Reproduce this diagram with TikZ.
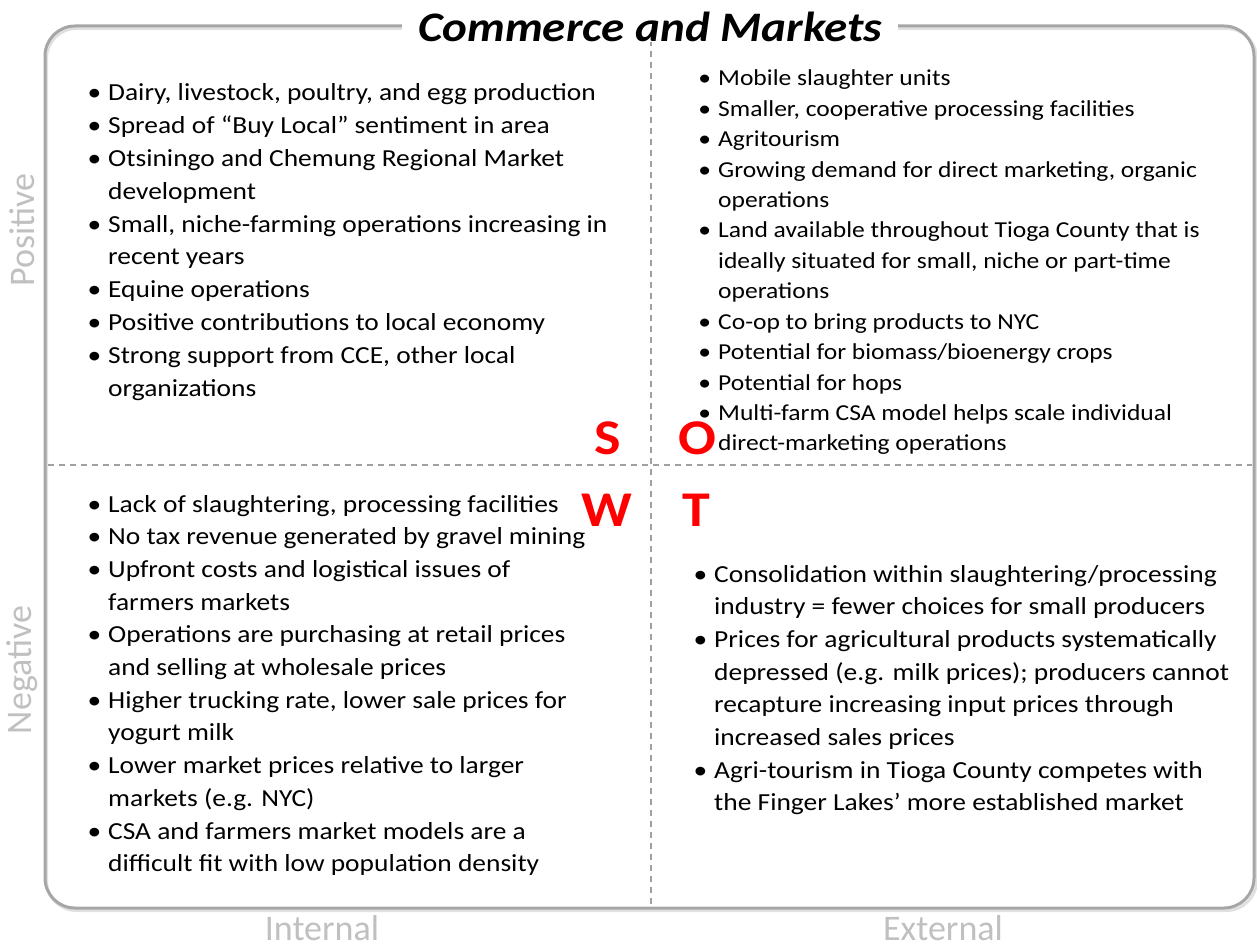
\documentclass[tikz,border=0pt]{standalone}
\usepackage{fontspec}
\setmainfont{Carlito}
\newfontfamily\wide[FakeStretch=1.12]{Carlito}
\definecolor{framegray}{HTML}{A6A6A6}
\definecolor{dashgray}{HTML}{A0A0A0}
\definecolor{axisgray}{HTML}{C0C0C0}
\definecolor{swotred}{HTML}{FF0000}
\newcommand\bul{\llap{\textbullet\hspace{7pt}}}
\begin{document}
\begin{tikzpicture}[x=1pt,y=-1pt,
  frame/.style={line width=3pt,draw=framegray,rounded corners=30pt},
  divider/.style={line width=1.4pt,draw=dashgray,dash pattern=on 6pt off 5pt},
  quadtext/.style={anchor=base west,inner sep=0pt,align=left},
  swot/.style={anchor=base,inner sep=0pt,text=swotred,font=\wide\fontsize{50}{56}\selectfont\bfseries},
  axislabel/.style={inner sep=0pt,text=axisgray,font=\fontsize{36}{42}\selectfont},
  titlebox/.style={anchor=base,fill=white,inner xsep=16pt,inner ysep=0pt,font=\wide\fontsize{42}{50}\selectfont\bfseries\itshape}]
\useasboundingbox (0,0) rectangle (1257,947);
% shadow + frame
\draw[line width=3pt,draw=black,opacity=0.12,rounded corners=30pt] (46.5,28.5) rectangle (1256.5,910.5);
\draw[frame] (45,26) rectangle (1254,908);
% dividers
\coordinate (vtop) at (651,40);
\coordinate (vbot) at (651,905);
\coordinate (hleft) at (48,465);
\coordinate (hright) at (1252,465);
\draw[divider] (vtop) -- (vbot);
\draw[divider] (hleft) -- (hright);
% title
\node[titlebox] (title) at (650,42) {Commerce and Markets};
% quadrants
\node[quadtext] (S) at (108,101) {\wide\fontsize{24.5}{32.8}\selectfont
\begin{tabular}[t]{@{}l@{}}
\bul Dairy, livestock, poultry, and egg production\\
\bul Spread of “Buy Local” sentiment in area\\
\bul Otsiningo and Chemung Regional Market\\
development\\
\bul Small, niche-farming operations increasing in\\
recent years\\
\bul Equine operations\\
\bul Positive contributions to local economy\\
\bul Strong support from CCE, other local\\
organizations
\end{tabular}};
\node[quadtext] (O) at (718,86) {\wide\fontsize{22.8}{30.4}\selectfont
\begin{tabular}[t]{@{}l@{}}
\bul Mobile slaughter units\\
\bul Smaller, cooperative processing facilities\\
\bul Agritourism\\
\bul Growing demand for direct marketing, organic\\
operations\\
\bul Land available throughout Tioga County that is\\
ideally situated for small, niche or part-time\\
operations\\
\bul Co-op to bring products to NYC\\
\bul Potential for biomass/bioenergy crops\\
\bul Potential for hops\\
\bul Multi-farm CSA model helps scale individual\\
direct-marketing operations
\end{tabular}};
\node[quadtext] (W) at (108,512) {\wide\fontsize{24.5}{32.7}\selectfont
\begin{tabular}[t]{@{}l@{}}
\bul Lack of slaughtering, processing facilities\\
\bul No tax revenue generated by gravel mining\\
\bul Upfront costs and logistical issues of\\
farmers markets\\
\bul Operations are purchasing at retail prices\\
and selling at wholesale prices\\
\bul Higher trucking rate, lower sale prices for\\
yogurt milk\\
\bul Lower market prices relative to larger\\
markets (e.g. NYC)\\
\bul CSA and farmers market models are a\\
difficult fit with low population density
\end{tabular}};
\node[quadtext] (T) at (714,582) {\wide\fontsize{24.5}{32.7}\selectfont
\begin{tabular}[t]{@{}l@{}}
\bul Consolidation within slaughtering/processing\\
industry = fewer choices for small producers\\
\bul Prices for agricultural products systematically\\
depressed (e.g. milk prices); producers cannot\\
recapture increasing input prices through\\
increased sales prices\\
\bul Agri-tourism in Tioga County competes with\\
the Finger Lakes’ more established market
\end{tabular}};
% SWOT letters
\node[swot] (ls) at (608,454) {S};
\node[swot] (lo) at (697,454) {O};
\node[swot] (lw) at (607,526) {W};
\node[swot] (lt) at (696,526) {T};
% axis labels
\node[axislabel,rotate=90] (pos) at (22,230) {Positive};
\node[axislabel,rotate=90] (neg) at (22,670) {Negative};
\node[axislabel,anchor=base] (int) at (322,940) {Internal};
\node[axislabel,anchor=base] (ext) at (943,940) {External};
\end{tikzpicture}
\end{document}
